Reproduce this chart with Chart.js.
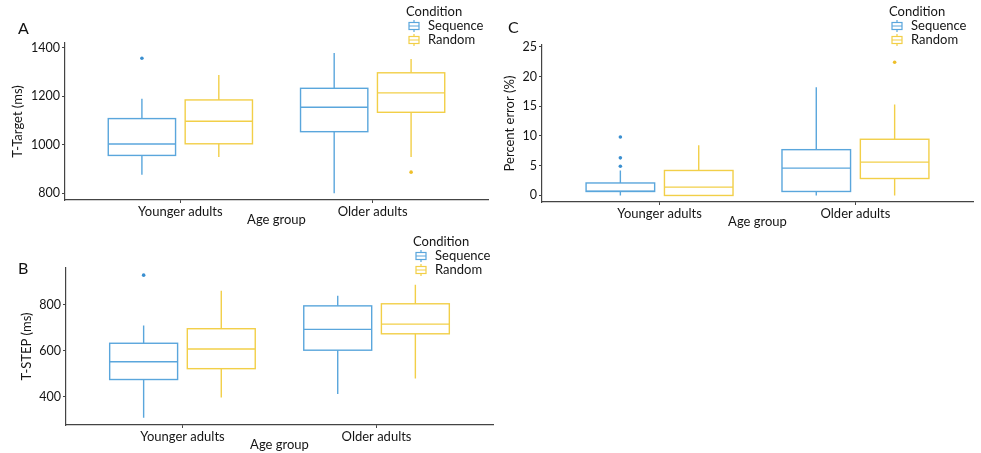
<!DOCTYPE html>
<html>
<head>
<meta charset="utf-8">
<script src="https://cdn.jsdelivr.net/npm/chart.js@4.4.0/dist/chart.umd.min.js"></script>
<style>
  html, body { margin: 0; padding: 0; background: #fff; }
  canvas { position: absolute; }
</style>
</head>
<body>
<canvas id="chartA" width="500" height="228" style="left:0;top:0"></canvas>
<canvas id="chartB" width="500" height="225" style="left:0;top:228px"></canvas>
<canvas id="chartC" width="491" height="240" style="left:490px;top:0"></canvas>
<script>
const groups = ['Younger adults', 'Older adults'];
const conditions = ['Sequence', 'Random'];
const colors = ['#5aa6dc', '#f2cf48'];
const dotColors = ['#3a8fd0', '#eebf2a'];

// box stats per age group: [lower whisker, Q1, median, Q3, upper whisker]
const targetSeq = [[876, 956, 1003, 1108, 1190], [800, 1054, 1155, 1233, 1379]];
const targetRnd = [[949, 1004, 1097, 1185, 1288], [949, 1134, 1214, 1297, 1354]];
const targetSeqOut = [[1357], []];
const targetRndOut = [[], [887]];
const targetTicks = [800, 1000, 1200, 1400];

const stepSeq = [[309, 475, 552, 632, 709], [412, 602, 692, 794, 838]];
const stepRnd = [[397, 522, 607, 695, 859], [479, 673, 715, 803, 885]];
const stepSeqOut = [[927], []];
const stepRndOut = [[], []];
const stepTicks = [400, 600, 800];

const errSeq = [[0, 0.67, 0.73, 2.1, 4.2], [0, 0.67, 4.6, 7.7, 18.2]];
const errRnd = [[0, 0, 1.4, 4.2, 8.45], [0, 2.85, 5.6, 9.45, 15.3]];
const errSeqOut = [[9.84, 6.32, 4.92], []];
const errRndOut = [[], [22.4]];
const errTicks = [0, 5, 10, 15, 20, 25];

const offsets = [-0.2, 0.2];
const boxWidth = 0.35;
const font = 'Lato';
const textColor = '#151515';

const boxPlugin = {
  id: 'boxes',
  beforeDatasetsDraw(chart) {
    const { ctx, scales: { x, y } } = chart;
    chart.data.datasets.forEach((ds, i) => {
      ds.boxes.forEach((b, g) => {
        const cx = g + 1 + offsets[i];
        const l = x.getPixelForValue(cx - boxWidth / 2);
        const r = x.getPixelForValue(cx + boxWidth / 2);
        const m = x.getPixelForValue(cx);
        const [lo, q1, med, q3, hi] = b.map(v => y.getPixelForValue(v));
        ctx.save();
        ctx.strokeStyle = colors[i];
        ctx.lineWidth = 1.4;
        ctx.beginPath();
        ctx.moveTo(m, hi); ctx.lineTo(m, q3);
        ctx.moveTo(m, q1); ctx.lineTo(m, lo);
        ctx.stroke();
        ctx.strokeRect(l, q3, r - l, q1 - q3);
        ctx.beginPath();
        ctx.moveTo(l, med); ctx.lineTo(r, med);
        ctx.stroke();
        ctx.restore();
      });
    });
  }
};

// ggplot-like legend: title and two box keys
const legendPlugin = {
  id: 'condLegend',
  afterDraw(chart, args, opts) {
    const ctx = chart.ctx;
    ctx.save();
    ctx.fillStyle = textColor;
    ctx.font = '13px ' + font;
    ctx.textBaseline = 'middle';
    ctx.fillText('Condition', opts.x, opts.y);
    conditions.forEach((c, i) => {
      const yy = opts.y + 14 * (i + 1);
      const ix = opts.x + 3;
      ctx.strokeStyle = colors[i];
      ctx.lineWidth = 1.2;
      ctx.strokeRect(ix, yy - 3.5, 10, 7);
      ctx.beginPath();
      ctx.moveTo(ix, yy); ctx.lineTo(ix + 10, yy);
      ctx.moveTo(ix + 5, yy - 6); ctx.lineTo(ix + 5, yy - 3.5);
      ctx.moveTo(ix + 5, yy + 3.5); ctx.lineTo(ix + 5, yy + 6);
      ctx.stroke();
      ctx.fillStyle = textColor;
      ctx.fillText(c, opts.x + 22, yy);
    });
    ctx.restore();
  }
};

// panel letter
const letterPlugin = {
  id: 'letter',
  afterDraw(chart, args, opts) {
    const ctx = chart.ctx;
    ctx.save();
    ctx.fillStyle = '#111';
    ctx.font = '16px ' + font;
    ctx.textBaseline = 'middle';
    ctx.fillText(opts.text, opts.x, opts.y);
    ctx.restore();
  }
};

function makeChart(id, p) {
  const datasets = conditions.map((c, i) => ({
    label: c,
    boxes: p.boxes[i],
    data: p.outliers[i].flatMap((vals, g) => vals.map(v => ({ x: g + 1 + offsets[i], y: v }))),
    backgroundColor: dotColors[i],
    borderWidth: 0,
    pointRadius: 1.8
  }));
  return new Chart(document.getElementById(id), {
    type: 'scatter',
    data: { datasets },
    options: {
      responsive: false,
      animation: false,
      layout: { padding: p.padding },
      plugins: {
        legend: { display: false },
        tooltip: { enabled: false },
        condLegend: p.legend,
        letter: p.letter
      },
      scales: {
        x: {
          type: 'linear',
          min: 0.4,
          max: 2.6,
          afterBuildTicks: s => { s.ticks = [1, 2].map(v => ({ value: v })); },
          afterFit: s => { s.height = 28; },
          grid: { drawOnChartArea: false, tickLength: 3, color: '#444' },
          border: { color: '#444', width: 1.2 },
          ticks: {
            callback: v => groups[v - 1],
            color: textColor,
            padding: 1,
            maxRotation: 0,
            font: { family: font, size: 13 }
          },
          title: {
            display: true, text: 'Age group', color: textColor,
            padding: { top: 0, bottom: 0 },
            font: { family: font, size: 13 }
          }
        },
        y: {
          min: p.yMin,
          max: p.yMax,
          afterBuildTicks: s => { s.ticks = p.ticks.map(v => ({ value: v })); },
          afterFit: s => { s.width = p.yWidth; },
          grid: { drawOnChartArea: false, tickLength: 3, color: '#444' },
          border: { color: '#444', width: 1.2 },
          ticks: {
            callback: v => String(v),
            color: textColor,
            padding: 2,
            font: { family: font, size: 12.5 }
          },
          title: {
            display: true, text: p.yTitle, color: textColor,
            padding: { top: p.titlePad, bottom: 0 },
            font: { family: font, size: 13 }
          }
        }
      }
    },
    plugins: [boxPlugin, legendPlugin, letterPlugin]
  });
}

makeChart('chartA', {
  boxes: [targetSeq, targetRnd],
  outliers: [targetSeqOut, targetRndOut],
  ticks: targetTicks, yMin: 772, yMax: 1420,
  yTitle: 'T-Target (ms)', yWidth: 65, titlePad: 10,
  padding: { top: 43, right: 12, left: 0, bottom: 0 },
  legend: { x: 406, y: 12 },
  letter: { text: 'A', x: 18, y: 29 }
});

makeChart('chartB', {
  boxes: [stepSeq, stepRnd],
  outliers: [stepSeqOut, stepRndOut],
  ticks: stepTicks, yMin: 278, yMax: 958,
  yTitle: 'T-STEP (ms)', yWidth: 66, titlePad: 19,
  padding: { top: 40, right: 7, left: 0, bottom: 0 },
  legend: { x: 413, y: 14 },
  letter: { text: 'B', x: 18, y: 41 }
});

makeChart('chartC', {
  boxes: [errSeq, errRnd],
  outliers: [errSeqOut, errRndOut],
  ticks: errTicks, yMin: -1.1, yMax: 25.3,
  yTitle: 'Percent error (%)', yWidth: 52, titlePad: 12,
  padding: { top: 45, right: 8, left: 0, bottom: 10 },
  legend: { x: 399, y: 12 },
  letter: { text: 'C', x: 18, y: 28 }
});
</script>
</body>
</html>
